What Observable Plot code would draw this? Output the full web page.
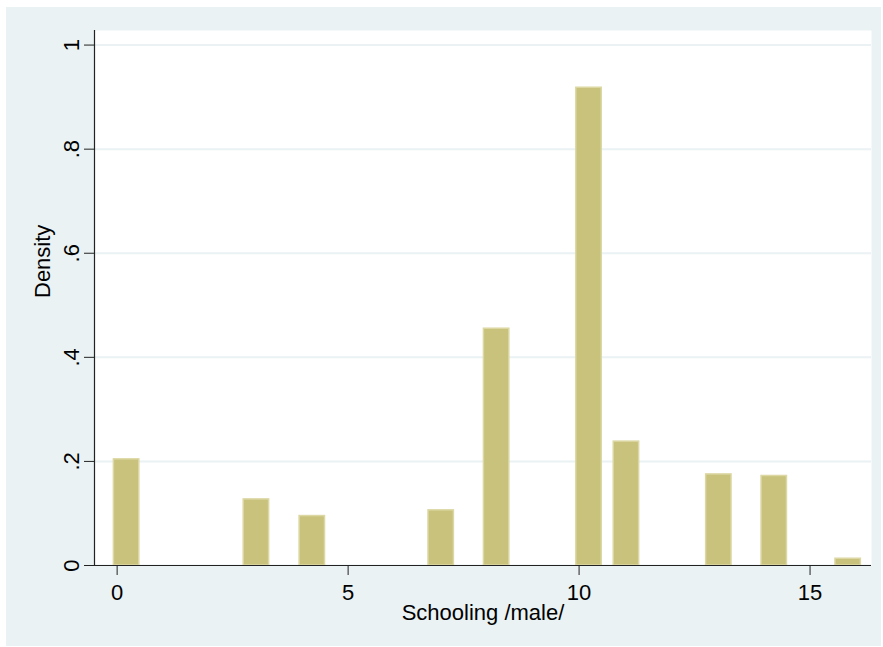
<!DOCTYPE html>
<html><head><meta charset="utf-8">
<script src="https://cdn.jsdelivr.net/npm/d3@7"></script>
<script src="https://cdn.jsdelivr.net/npm/@observablehq/plot@0.6"></script>
<style>
html,body{margin:0;padding:0;background:#fff;}
#wrap{position:absolute;left:6px;top:7px;width:875px;height:639px;background:#eaf2f3;}
</style></head><body><div id="wrap"></div>
<script>
// Data
const schooling = [0, 3, 4, 7, 8, 10, 11, 13, 14, 16];
const binLo     = [-0.07, 2.74, 3.95, 6.74, 7.94, 9.94, 10.75, 12.75, 13.95, 15.55];
const binWidth  = 0.55;
const density   = [0.204, 0.127, 0.095, 0.106, 0.455, 0.918, 0.238, 0.175, 0.172, 0.013];
const xTicks = [0, 5, 10, 15];
const yTicks = [0, 0.2, 0.4, 0.6, 0.8, 1];
const yTickLabels = ["0", ".2", ".4", ".6", ".8", "1"];
const xDomain = [-0.49, 16.33];
const yDomain = [0, 1.028];
const xLabel = "Schooling /male/";
const yLabel = "Density";

const rows = schooling.map((v, i) => ({value: v, x1: binLo[i], x2: binLo[i] + binWidth, density: density[i]}));

const chart = Plot.plot({
  width: 875, height: 639,
  marginLeft: 88, marginRight: 10, marginTop: 23, marginBottom: 81,
  style: {background: "transparent", fontFamily: "'Liberation Sans', Arial, sans-serif", fontSize: "22px", color: "#000"},
  x: {domain: xDomain},
  y: {domain: yDomain},
  marks: [
    Plot.frame({fill: "white", stroke: null}),
    Plot.gridY(yTicks, {stroke: "#eaf2f3", strokeOpacity: 1, strokeWidth: 2}),
    Plot.rectY(rows, {x1: "x1", x2: "x2", y1: 0, y2: "density", fill: "#c8c27c", stroke: "#dcd7a3", strokeWidth: 1.5}),
    Plot.ruleY([yDomain[0]], {stroke: "#222", strokeWidth: 1.2}),
    Plot.ruleX([xDomain[0]], {stroke: "#222", strokeWidth: 1.2}),
    Plot.axisX(xTicks, {tickSize: 10, tickPadding: 9, stroke: "#222", fill: "#000", label: null, fontSize: 22}),
    Plot.axisY(yTicks, {tickSize: 10, tickPadding: 6, tickRotate: -90, stroke: "#222", fill: "#000", label: null, fontSize: 22,
      tickFormat: d => yTickLabels[yTicks.indexOf(d)]}),
    Plot.text([xLabel], {frameAnchor: "bottom", dy: 54, fontSize: 22, fill: "#000"}),
    Plot.text([yLabel], {frameAnchor: "left", dx: -52, rotate: -90, fontSize: 22, fill: "#000"})
  ]
});
document.getElementById("wrap").appendChild(chart);
</script></body></html>
